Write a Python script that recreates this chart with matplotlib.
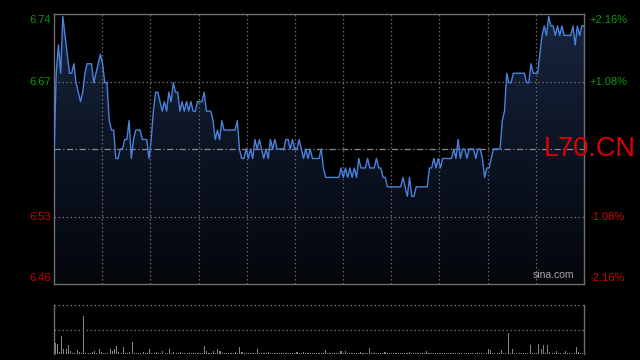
import matplotlib
matplotlib.use("Agg")
import matplotlib.pyplot as plt
import numpy as np
from matplotlib.colors import LinearSegmentedColormap

plt.rcParams['font.family'] = ['Liberation Sans', 'DejaVu Sans']

prev_close = 6.60
left_labels = ["6.74", "6.67", "6.53", "6.46"]
right_labels = ["+2.16%", "+1.08%", "-1.08%", "-2.16%"]
pct_levels = [0.0216, 0.0108, -0.0108, -0.0216]
symbol_text = "L70.CN"
source_text = "sina.com"

prices = [
    6.59, 6.68, 6.71, 6.68, 6.74, 6.72, 6.70, 6.68, 6.68, 6.69,
    6.67, 6.66, 6.65, 6.66, 6.68, 6.69, 6.69, 6.69, 6.67, 6.68,
    6.69, 6.70, 6.69, 6.67, 6.67, 6.63, 6.62, 6.62, 6.59, 6.59,
    6.60, 6.60, 6.61, 6.61, 6.63, 6.59, 6.61, 6.62, 6.62, 6.62,
    6.61, 6.61, 6.61, 6.59, 6.61, 6.64, 6.66, 6.66, 6.65, 6.64,
    6.65, 6.64, 6.66, 6.65, 6.67, 6.66, 6.66, 6.64, 6.65, 6.64,
    6.65, 6.64, 6.65, 6.64, 6.64, 6.65, 6.65, 6.65, 6.66, 6.64,
    6.64, 6.64, 6.63, 6.61, 6.62, 6.61, 6.63, 6.62, 6.62, 6.62,
    6.62, 6.62, 6.62, 6.63, 6.60, 6.59, 6.59, 6.60, 6.59, 6.60,
    6.59, 6.61, 6.60, 6.61, 6.60, 6.59, 6.60, 6.59, 6.61, 6.60,
    6.61, 6.60, 6.60, 6.60, 6.60, 6.61, 6.61, 6.60, 6.61, 6.60,
    6.60, 6.61, 6.60, 6.59, 6.60, 6.59, 6.60, 6.59, 6.59, 6.59,
    6.59, 6.60, 6.58, 6.57, 6.57, 6.57, 6.57, 6.57, 6.57, 6.57,
    6.58, 6.57, 6.58, 6.57, 6.58, 6.57, 6.58, 6.57, 6.59, 6.58,
    6.58, 6.58, 6.59, 6.58, 6.58, 6.58, 6.59, 6.58, 6.58, 6.57,
    6.57, 6.56, 6.56, 6.56, 6.56, 6.56, 6.56, 6.56, 6.57, 6.56,
    6.55, 6.57, 6.55, 6.55, 6.56, 6.56, 6.56, 6.56, 6.56, 6.56,
    6.58, 6.58, 6.59, 6.58, 6.59, 6.58, 6.59, 6.59, 6.59, 6.59,
    6.59, 6.60, 6.59, 6.61, 6.59, 6.60, 6.60, 6.59, 6.60, 6.60,
    6.60, 6.59, 6.60, 6.60, 6.59, 6.57, 6.58, 6.58, 6.59, 6.60,
    6.60, 6.60, 6.60, 6.63, 6.64, 6.68, 6.67, 6.67, 6.68, 6.68,
    6.68, 6.68, 6.68, 6.68, 6.67, 6.67, 6.69, 6.68, 6.68, 6.68,
    6.70, 6.72, 6.73, 6.72, 6.74, 6.73, 6.73, 6.72, 6.73, 6.72,
    6.73, 6.72, 6.72, 6.72, 6.72, 6.73, 6.71, 6.73, 6.72, 6.73,
    6.73,
]

volumes = [
    11, 10, 2, 18, 5, 5, 9, 3, 1, 1,
    4, 2, 1, 38, 1, 1, 1, 2, 3, 1,
    5, 2, 1, 1, 1, 5, 3, 5, 8, 2,
    1, 7, 1, 1, 2, 12, 1, 1, 1, 1,
    2, 1, 1, 5, 1, 1, 2, 1, 1, 3,
    1, 1, 5, 1, 2, 1, 1, 2, 1, 1,
    1, 1, 1, 1, 1, 1, 1, 1, 8, 3,
    1, 1, 3, 1, 5, 3, 1, 1, 1, 1,
    1, 1, 2, 1, 7, 2, 1, 1, 1, 1,
    1, 1, 5, 1, 1, 1, 1, 2, 1, 1,
    1, 1, 1, 1, 1, 1, 1, 1, 1, 1,
    2, 1, 1, 2, 1, 1, 1, 1, 1, 1,
    1, 1, 1, 4, 1, 1, 1, 1, 1, 1,
    3, 1, 3, 1, 1, 1, 1, 1, 1, 2,
    1, 1, 1, 6, 1, 1, 1, 1, 1, 1,
    2, 1, 1, 1, 1, 1, 1, 1, 1, 1,
    1, 2, 1, 1, 1, 1, 1, 1, 1, 3,
    1, 1, 1, 1, 1, 1, 1, 1, 1, 1,
    1, 1, 1, 1, 1, 1, 1, 1, 1, 1,
    1, 1, 1, 1, 1, 1, 1, 5, 4, 1,
    1, 1, 1, 4, 1, 1, 21, 1, 5, 1,
    1, 1, 1, 1, 1, 1, 9, 1, 1, 1,
    10, 5, 9, 1, 9, 2, 1, 1, 3, 1,
    1, 1, 3, 1, 1, 1, 1, 7, 2, 1,
    1,
]

W, H = 640, 360
fig = plt.figure(figsize=(W / 100, H / 100), dpi=100, facecolor='black')

def px_axes(l, t, r, b):
    return fig.add_axes([l / W, 1 - b / H, (r - l) / W, (b - t) / H])

ax = px_axes(54, 14, 584, 284)
axv = px_axes(54, 305, 584, 354)

x = np.arange(len(prices))
y = np.array(prices)
ymax = prev_close * (1 + pct_levels[0])
ymin = prev_close * (1 + pct_levels[-1])
xmax = len(prices) - 1

ax.set_facecolor('black')
ax.set_xlim(0, xmax)
ax.set_ylim(ymin, ymax)

# gradient fill under line
cmap = LinearSegmentedColormap.from_list('g', ['#04060a', '#0c1424', '#18263f'])
grad = np.linspace(0, 1, 256).reshape(-1, 1)
poly = ax.fill_between(x, y, ymin, color='none', lw=0)
im = ax.imshow(grad, extent=[0, xmax, ymin, ymax], origin='lower', aspect='auto',
               cmap=cmap, zorder=1)
path = poly.get_paths()[0]
im.set_clip_path(path, transform=ax.transData)

# grid
grid_c = '#6a6a6a'
for k in range(1, 11):
    ax.axvline(xmax * k / 11, color=grid_c, lw=0.9, ls=(0, (1.2, 2.0)), zorder=2)
for p in [pct_levels[1], pct_levels[2]]:
    ax.axhline(prev_close * (1 + p), color=grid_c, lw=0.9, ls=(0, (1.2, 2.0)), zorder=2)
ax.axhline(prev_close, color='#8a8a8a', lw=0.9, ls=(0, (5, 2, 1, 2)), zorder=2)

ax.plot(x, y, color='#4a82dc', lw=1.0, zorder=3)

for s in ax.spines.values():
    s.set_color('#6e6e6e')
    s.set_linewidth(1.0)
ax.set_xticks([])
ax.set_yticks([])

# labels
span = ymax - ymin
lab_pos = [ymax - span * 6 / 270, prev_close * (1 + pct_levels[1]),
           prev_close * (1 + pct_levels[2]), ymin + span * 6 / 270]
lab_col = ['#0a9a0a', '#0a9a0a', '#d20000', '#d20000']
tr = ax.get_yaxis_transform()
for txt, pos, c in zip(left_labels, lab_pos, lab_col):
    ax.text(-3 / 530, pos, txt, transform=tr, ha='right', va='center',
            color=c, fontsize=8, clip_on=False)
for txt, pos, c in zip(right_labels, lab_pos, lab_col):
    ax.text(1 + 5 / 530, pos, txt, transform=tr, ha='left', va='center',
            color=c, fontsize=8, clip_on=False)

ax.text(1 - 40 / 530, prev_close, symbol_text, transform=tr, ha='left', va='center',
        color='#e00000', fontsize=19.5, clip_on=False, zorder=5)
ax.text(1 - 10 / 530, ymin + span * 4 / 270, source_text, transform=tr, ha='right',
        va='bottom', color='#a8a8a8', fontsize=7.5, zorder=5)

# volume panel
axv.set_facecolor('black')
axv.set_xlim(-0.5, xmax + 0.5)
axv.set_ylim(0, 49)
axv.bar(x, volumes, width=0.5, color='#858585', lw=0)
for yy in [24.5, 49]:
    axv.axhline(yy, color=grid_c, lw=0.9, ls=(0, (1.2, 2.0)), clip_on=False)
axv.spines['top'].set_visible(False)
axv.spines['bottom'].set_visible(False)
for s in ['left', 'right']:
    axv.spines[s].set_color('#6e6e6e')
    axv.spines[s].set_linewidth(1.0)
axv.set_xticks([])
axv.set_yticks([])

fig.savefig('out.png', dpi=100, facecolor='black')
